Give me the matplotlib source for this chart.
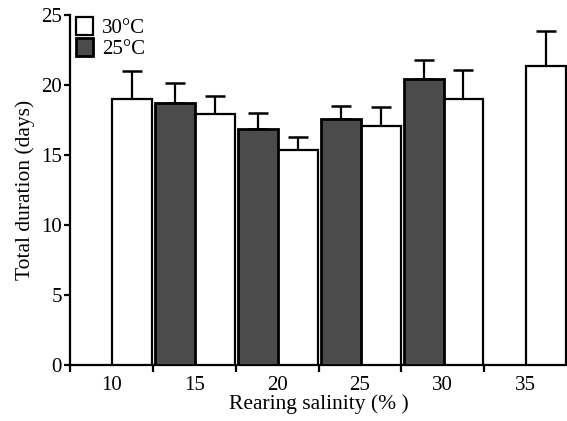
import matplotlib
matplotlib.use("Agg")
import matplotlib.pyplot as plt
import numpy as np

plt.rcParams['font.family'] = ['Liberation Serif', 'DejaVu Serif']

salinity = [10, 15, 20, 25, 30, 35]
# 30°C (white bars)
t30_mean = [19.0, 17.9, 15.35, 17.05, 19.0, 21.35]
t30_err = [2.0, 1.3, 0.9, 1.35, 2.1, 2.5]
# 25°C (dark bars)
sal25 = [15, 20, 25, 30]
t25_mean = [18.7, 16.85, 17.55, 20.45]
t25_err = [1.45, 1.15, 0.95, 1.3]

fig = plt.figure(figsize=(5.67, 4.21), dpi=100)
ax = fig.add_axes([0.1235, 0.1342, 0.8765, 0.8302])

w = 2.4
x30 = np.array(salinity) + 1.25
x25 = np.array(sal25) - 1.15

b30 = ax.bar(x30, t30_mean, width=w, color='white', edgecolor='black', linewidth=1.6, zorder=3)
b25 = ax.bar(x25, t25_mean, width=w, color='#4b4b4b', edgecolor='black', linewidth=2.0, zorder=3)
ax.errorbar(x30, t30_mean, yerr=[np.zeros(len(t30_err)), t30_err], fmt='none',
            ecolor='black', elinewidth=1.6, capsize=7, capthick=1.8, zorder=2)
ax.errorbar(x25, t25_mean, yerr=[np.zeros(len(t25_err)), t25_err], fmt='none',
            ecolor='black', elinewidth=1.6, capsize=7, capthick=1.8, zorder=2)

ax.set_xlim(7.5, 37.5)
ax.set_ylim(0, 25)
ax.set_yticks([0, 5, 10, 15, 20, 25])
ax.set_xticks([7.5, 12.5, 17.5, 22.5, 27.5, 32.5])
ax.set_xticklabels([])
ax.set_xticks(salinity, minor=True)
ax.set_xticklabels([str(s) for s in salinity], minor=True)
ax.tick_params(axis='x', which='major', direction='out', length=5, width=1.6)
ax.tick_params(axis='x', which='minor', length=0, pad=8, labelsize=15)
ax.tick_params(axis='y', direction='out', length=4, width=1.6, pad=2, labelsize=15)

for s in ['top', 'right']:
    ax.spines[s].set_visible(False)
for s in ['left', 'bottom']:
    ax.spines[s].set_linewidth(1.6)

ax.set_xlabel('Rearing salinity (% )', fontsize=15.5, labelpad=0)
ax.set_ylabel('Total duration (days)', fontsize=15.5, labelpad=4)

leg = ax.legend([b30, b25], ['30°C', '25°C'], loc='upper left', bbox_to_anchor=(0.012, 0.995),
                frameon=False, fontsize=15, handlelength=0.8, handleheight=0.95,
                handletextpad=0.45, labelspacing=0.02, borderpad=0, borderaxespad=0)

fig.savefig('out.png', dpi=100)
